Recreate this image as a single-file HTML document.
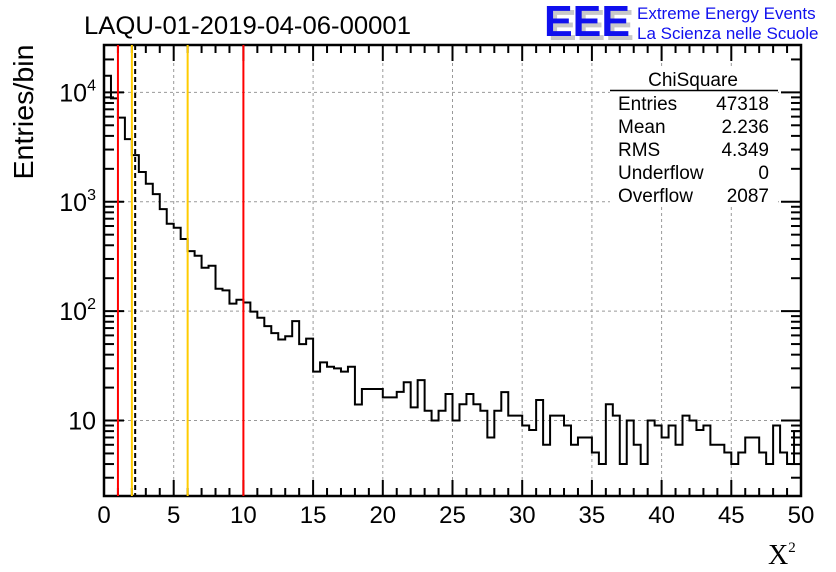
<!DOCTYPE html>
<html><head><meta charset="utf-8"><style>
body{margin:0;background:#fff;}
svg{display:block;font-family:"Liberation Sans",sans-serif;}
</style></head><body>
<svg id="chart" width="836" height="572" viewBox="0 0 836 572" xmlns="http://www.w3.org/2000/svg">
<rect width="836" height="572" fill="#fff"/>
<text x="84" y="34" font-size="25" textLength="327" lengthAdjust="spacingAndGlyphs">LAQU-01-2019-04-06-00001</text>
<g>
<text x="548" y="40" font-size="44" font-weight="bold" fill="#c8c8c8" textLength="86" lengthAdjust="spacingAndGlyphs">EEE</text>
<text x="544" y="36" font-size="44" font-weight="bold" fill="#1010ee" textLength="86" lengthAdjust="spacingAndGlyphs">EEE</text>
<text x="637" y="19" font-size="17" fill="#1010ee">Extreme Energy Events</text>
<text x="637" y="39" font-size="17" fill="#1010ee">La Scienza nelle Scuole</text>
</g>
<text transform="translate(33,112) rotate(-90)" text-anchor="middle" font-size="28" textLength="135" lengthAdjust="spacingAndGlyphs">Entries/bin</text>
<text x="768" y="564" font-family="Liberation Serif,serif" font-size="28">X<tspan font-size="15" dy="-12">2</tspan></text>
<g id="grid"></g><g id="axes"></g><g id="marks"></g>
<g font-size="19">
<rect x="610" y="68" width="168" height="136" fill="#fff"/>
<text x="693" y="86" text-anchor="middle">ChiSquare</text>
<line x1="610" y1="90.5" x2="778" y2="90.5" stroke="#000" stroke-width="1.5"/>
<text x="618" y="110">Entries</text><text x="769" y="110" text-anchor="end">47318</text>
<text x="618" y="133">Mean</text><text x="769" y="133" text-anchor="end">2.236</text>
<text x="618" y="156">RMS</text><text x="769" y="156" text-anchor="end">4.349</text>
<text x="618" y="179">Underflow</text><text x="769" y="179" text-anchor="end">0</text>
<text x="618" y="202">Overflow</text><text x="769" y="202" text-anchor="end">2087</text>
</g>
</svg>
<script>
const binWidth = 0.5;
const counts = [14200,8800,5870,3740,2670,1870,1460,1175,857,630,
578,456,354,321,249,260,160,155,117,127,
120,99,87,73,63,55,59,81,50,56,
28,34,31,30,28,31,14,19.4,19.4,19.4,
16.3,16.3,18.3,22.4,13.2,23.4,12.3,10,12.3,17.5,
10,14.1,17.5,14.1,12.3,7,12.3,18.2,11.1,11.1,
9,8.2,15.4,6,11.1,11.1,9,6,7,7,
5.1,4,14.1,11.1,4,10,6,4,10,9,
7,9,6,11.1,10,8.2,9,6,6,5.1,
4,5.1,7,7,5.1,4,9,5.1,4,8];
const xTicks = [0,5,10,15,20,25,30,35,40,45,50];
const yDecades = [1,2,3,4];
const yLabels = ["10","10^2","10^3","10^4"];
const redLines = [1,10];
const yellowLines = [2,6];
const meanLine = [2.236];

const L=104,R=801,T=45,B=496, xMin=0,xMax=50, lMin=0.31,lMax=4.433;
const sx=v=>L+(v-xMin)/(xMax-xMin)*(R-L);
const sy=v=>B-(Math.log10(v)-lMin)/(lMax-lMin)*(B-T);
const NS="http://www.w3.org/2000/svg";
function mk(tag,attrs,parent){const e=document.createElementNS(NS,tag);for(const k in attrs)e.setAttribute(k,attrs[k]);parent.appendChild(e);return e;}
const grid=document.getElementById('grid'),axes=document.getElementById('axes'),marks=document.getElementById('marks');
xTicks.forEach(t=>{if(t>xMin&&t<xMax){const g=mk('line',{x1:sx(t),x2:sx(t),y1:T,y2:B,stroke:'#999','stroke-dasharray':'3,3','stroke-width':1},grid);

}});
yDecades.forEach(d=>{const y=sy(Math.pow(10,d));const g=mk('line',{x1:L,x2:R,y1:y,y2:y,stroke:'#999','stroke-dasharray':'3,3','stroke-width':1},grid);

});
let d='M'+sx(0)+','+B;
counts.forEach((c,i)=>{const y=sy(c);d+=' L'+sx(i*binWidth)+','+y+' L'+sx((i+1)*binWidth)+','+y;});
d+=' L'+sx(counts.length*binWidth)+','+B;
const p=mk('path',{d:d,fill:'none',stroke:'#000','stroke-width':2},marks);


function vline(v,color,dash,name){const l=mk('line',{x1:sx(v),x2:sx(v),y1:T,y2:B,stroke:color,'stroke-width':2},marks);if(dash)l.setAttribute('stroke-dasharray',dash);

}
redLines.forEach(v=>vline(v,'#f00',null,'red-cut-line'));
yellowLines.forEach(v=>vline(v,'#fc0',null,'yellow-cut-line'));
meanLine.forEach(v=>vline(v,'#000','5,3','mean-line'));
const fr=mk('rect',{x:L,y:T,width:R-L,height:B-T,fill:'none',stroke:'#000','stroke-width':2.5},axes);


for(let v=0;v<=50;v++){const maj=v%5===0;const len=maj?16:8;const x=sx(v);
mk('line',{x1:x,x2:x,y1:B,y2:B-len,stroke:'#000','stroke-width':2},axes);
mk('line',{x1:x,x2:x,y1:T,y2:T+len,stroke:'#000','stroke-width':2},axes);}
xTicks.forEach(t=>{const tx=mk('text',{x:sx(t),y:523,'text-anchor':'middle','font-size':24},axes);tx.textContent=t;

});
for(let dd=0;dd<=4;dd++){for(let m=1;m<=9;m++){const v=m*Math.pow(10,dd);const lv=Math.log10(v);if(lv<lMin||lv>lMax)continue;const y=sy(v);const len=m===1?20:10;
mk('line',{x1:L,x2:L+len,y1:y,y2:y,stroke:'#000','stroke-width':2},axes);
mk('line',{x1:R,x2:R-len,y1:y,y2:y,stroke:'#000','stroke-width':2},axes);}}
yLabels.forEach((lab,i)=>{const y=sy(Math.pow(10,yDecades[i]))+9;const tx=mk('text',{x:96,y:y,'text-anchor':'end','font-size':25},axes);


const parts=lab.split('^');if(parts.length===1){tx.textContent=lab;}else{tx.textContent=parts[0];const ts=mk('tspan',{'font-size':16,dy:-11},tx);ts.textContent=parts[1];}});
</script>
</body></html>
